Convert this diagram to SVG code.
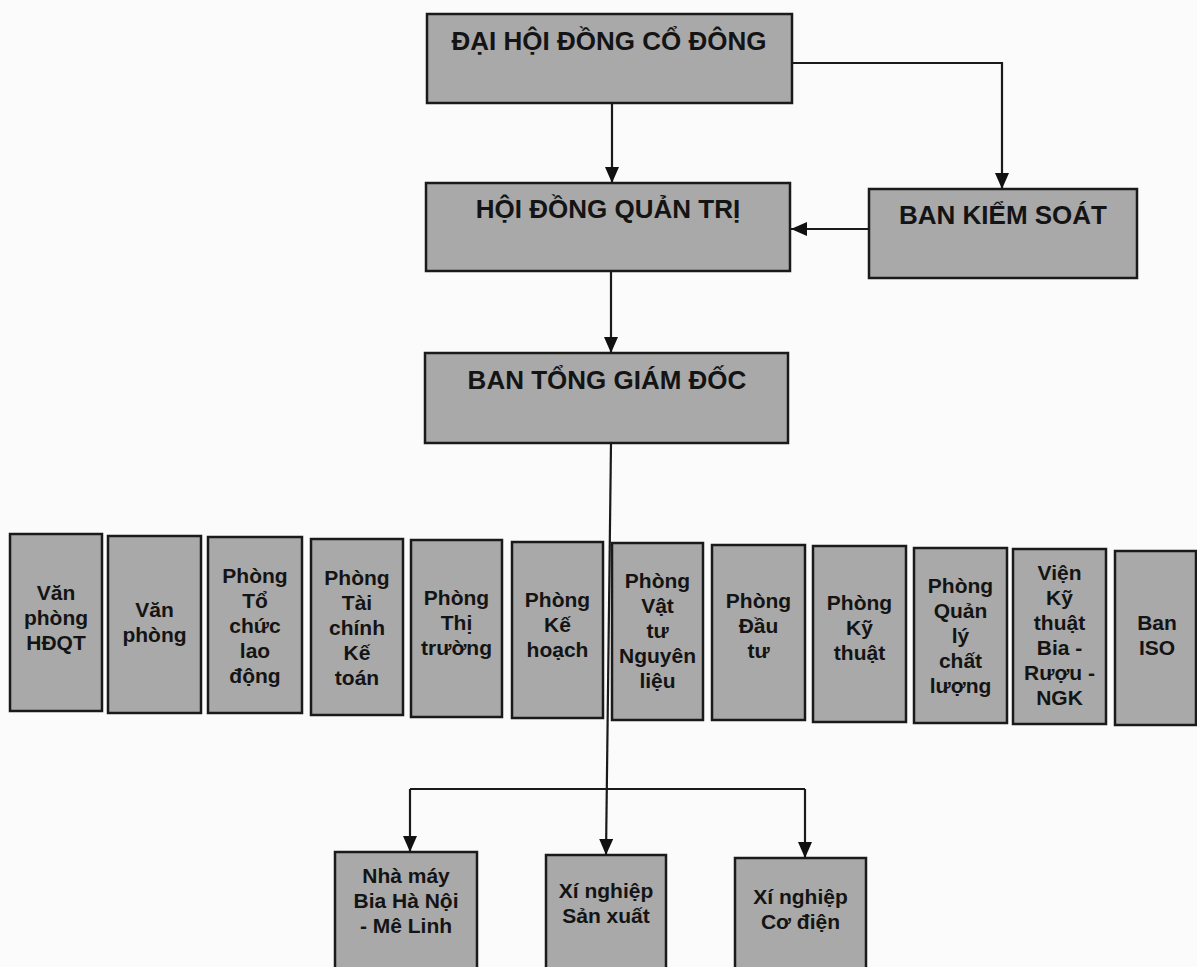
<svg xmlns="http://www.w3.org/2000/svg" width="1197" height="967" viewBox="0 0 1197 967">
<defs>
<marker id="arr" viewBox="0 0 16 14" refX="16" refY="7" markerWidth="16" markerHeight="14" markerUnits="userSpaceOnUse" orient="auto">
<path d="M0,0 L16,7 L0,14 z" fill="#111"/>
</marker>
<style>
.box{fill:#a9a9a9;stroke:#1a1a1a;stroke-width:2.5}
.t{font-family:"Liberation Sans",Arial,sans-serif;font-weight:bold;fill:#141414;text-anchor:middle}
.big{font-size:26px}
.sm{font-size:21px}
.ln{fill:none;stroke:#1a1a1a;stroke-width:2.2}
</style>
</defs>
<rect x="0" y="0" width="1197" height="967" fill="#fbfbfb"/>

<g id="connectors">
<path class="ln" d="M612,103 L612,183" marker-end="url(#arr)"/>
<path class="ln" d="M792,63 L1002,63 L1002,189" marker-end="url(#arr)"/>
<path class="ln" d="M869,229 L791,229" marker-end="url(#arr)"/>
<path class="ln" d="M611,271 L611,353" marker-end="url(#arr)"/>
<path class="ln" d="M611,443 L606,855" marker-end="url(#arr)"/>
<path class="ln" d="M410,789 L805,789"/>
<path class="ln" d="M410,789 L410,852" marker-end="url(#arr)"/>
<path class="ln" d="M805,789 L805,858" marker-end="url(#arr)"/>
</g>

<g id="dhdcd">
<rect class="box" x="427" y="14" width="365" height="89"/>
<text class="t big" x="609" y="50">ĐẠI HỘI ĐỒNG CỔ ĐÔNG</text>
</g>
<g id="hdqt">
<rect class="box" x="426" y="183" width="364" height="88"/>
<text class="t big" x="608" y="218">HỘI ĐỒNG QUẢN TRỊ</text>
</g>
<g id="bks">
<rect class="box" x="869" y="189" width="268" height="89"/>
<text class="t big" x="1003" y="224">BAN KIỂM SOÁT</text>
</g>
<g id="btgd">
<rect class="box" x="425" y="353" width="363" height="90"/>
<text class="t big" x="607" y="389">BAN TỔNG GIÁM ĐỐC</text>
</g>

<g id="d1">
<rect class="box" x="10" y="534" width="92" height="177"/>
<text class="t sm" x="56" y="600">Văn<tspan x="56" dy="25">phòng</tspan><tspan x="56" dy="25">HĐQT</tspan></text>
</g>
<g id="d2">
<rect class="box" x="108" y="536" width="93" height="177"/>
<text class="t sm" x="154.5" y="617">Văn<tspan x="154.5" dy="25">phòng</tspan></text>
</g>
<g id="d3">
<rect class="box" x="208" y="537" width="94" height="176"/>
<text class="t sm" x="255" y="583">Phòng<tspan x="255" dy="25">Tổ</tspan><tspan x="255" dy="25">chức</tspan><tspan x="255" dy="25">lao</tspan><tspan x="255" dy="25">động</tspan></text>
</g>
<g id="d4">
<rect class="box" x="311" y="539" width="92" height="176"/>
<text class="t sm" x="357" y="585">Phòng<tspan x="357" dy="25">Tài</tspan><tspan x="357" dy="25">chính</tspan><tspan x="357" dy="25">Kế</tspan><tspan x="357" dy="25">toán</tspan></text>
</g>
<g id="d5">
<rect class="box" x="411" y="540" width="91" height="177"/>
<text class="t sm" x="456.5" y="605">Phòng<tspan x="456.5" dy="25">Thị</tspan><tspan x="456.5" dy="25">trường</tspan></text>
</g>
<g id="d6">
<rect class="box" x="512" y="542" width="91" height="176"/>
<text class="t sm" x="557.5" y="607">Phòng<tspan x="557.5" dy="25">Kế</tspan><tspan x="557.5" dy="25">hoạch</tspan></text>
</g>
<g id="d7">
<rect class="box" x="612" y="543" width="91" height="177"/>
<text class="t sm" x="657.5" y="588">Phòng<tspan x="657.5" dy="25">Vật</tspan><tspan x="657.5" dy="25">tư</tspan><tspan x="657.5" dy="25">Nguyên</tspan><tspan x="657.5" dy="25">liệu</tspan></text>
</g>
<g id="d8">
<rect class="box" x="712" y="545" width="93" height="175"/>
<text class="t sm" x="758.5" y="608">Phòng<tspan x="758.5" dy="25">Đầu</tspan><tspan x="758.5" dy="25">tư</tspan></text>
</g>
<g id="d9">
<rect class="box" x="813" y="546" width="93" height="176"/>
<text class="t sm" x="859.5" y="610">Phòng<tspan x="859.5" dy="25">Kỹ</tspan><tspan x="859.5" dy="25">thuật</tspan></text>
</g>
<g id="d10">
<rect class="box" x="914" y="548" width="93" height="175"/>
<text class="t sm" x="960.5" y="593">Phòng<tspan x="960.5" dy="25">Quản</tspan><tspan x="960.5" dy="25">lý</tspan><tspan x="960.5" dy="25">chất</tspan><tspan x="960.5" dy="25">lượng</tspan></text>
</g>
<g id="d11">
<rect class="box" x="1013" y="549" width="93" height="175"/>
<text class="t sm" x="1059.5" y="580">Viện<tspan x="1059.5" dy="25">Kỹ</tspan><tspan x="1059.5" dy="25">thuật</tspan><tspan x="1059.5" dy="25">Bia -</tspan><tspan x="1059.5" dy="25">Rượu -</tspan><tspan x="1059.5" dy="25">NGK</tspan></text>
</g>
<g id="d12">
<rect class="box" x="1115" y="551" width="81" height="174"/>
<text class="t sm" x="1157" y="630">Ban<tspan x="1157" dy="25">ISO</tspan></text>
</g>

<g id="nm">
<rect class="box" x="335" y="852" width="142" height="130"/>
<text class="t sm" x="406" y="883">Nhà máy<tspan x="406" dy="25">Bia Hà Nội</tspan><tspan x="406" dy="25">- Mê Linh</tspan></text>
</g>
<g id="xnsx">
<rect class="box" x="546" y="855" width="120" height="127"/>
<text class="t sm" x="606" y="898">Xí nghiệp<tspan x="606" dy="25">Sản xuất</tspan></text>
</g>
<g id="xncd">
<rect class="box" x="735" y="858" width="131" height="124"/>
<text class="t sm" x="800.5" y="904">Xí nghiệp<tspan x="800.5" dy="25">Cơ điện</tspan></text>
</g>
</svg>
